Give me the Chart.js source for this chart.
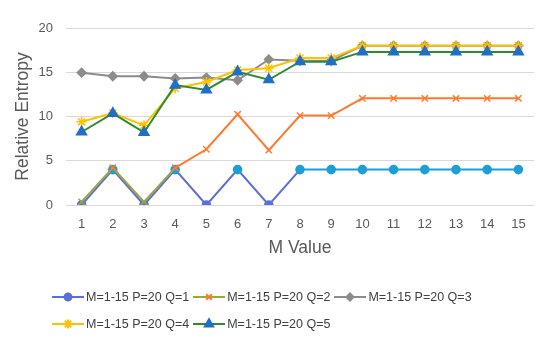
<!DOCTYPE html>
<html>
<head>
<meta charset="utf-8">
<script src="https://cdn.jsdelivr.net/npm/chart.js@4.4.0/dist/chart.umd.min.js"></script>
<style>
  html, body { margin: 0; padding: 0; background: #fff; }
  #wrap { position: relative; width: 550px; height: 351px; }
  #legend { position: absolute; left: 52px; top: 287px; font-family: "Liberation Sans", Arial, sans-serif; font-size: 12.5px; color: #404040; }
  .row { display: flex; align-items: center; height: 20px; margin-bottom: 7px; white-space: nowrap; }
  .item { display: flex; align-items: center; margin-right: 4px; }
  .item canvas { margin-right: 2px; }
</style>
</head>
<body>
<div id="wrap">
  <canvas id="c" width="550" height="351"></canvas>
  <div id="legend"></div>
</div>
<script>
const categories = ['1','2','3','4','5','6','7','8','9','10','11','12','13','14','15'];
const seriesNames = ['M=1-15 P=20 Q=1','M=1-15 P=20 Q=2','M=1-15 P=20 Q=3','M=1-15 P=20 Q=4','M=1-15 P=20 Q=5'];
const q1 = [0, 4, 0, 4, 0, 4, 0, 4, 4, 4, 4, 4, 4, 4, 4];
const q2 = [0.35, 4.2, 0.35, 4.2, 6.3, 10.25, 6.2, 10.1, 10.1, 12.05, 12.05, 12.05, 12.05, 12.05, 12.05];
const q3 = [14.95, 14.55, 14.55, 14.3, 14.4, 14.1, 16.45, 16.3, 16.3, 18.0, 18.0, 18.0, 18.0, 18.0, 18.0];
const q4 = [9.4, 10.4, 9.0, 13.2, 13.9, 15.25, 15.45, 16.6, 16.6, 18.0, 18.0, 18.0, 18.0, 18.0, 18.0];
const q5 = [8.25, 10.35, 8.2, 13.55, 13.0, 15.05, 14.15, 16.2, 16.2, 17.3, 17.3, 17.3, 17.3, 17.3, 17.3];
const yTicks = [0, 5, 10, 15, 20];

const PURPLE = '#5b6fd8', CYAN = '#1e9ed6';
const OLIVE = '#9aa83e', ORANGE = '#ff7a2e';
const GRAY = '#8c8c8c', YELLOW = '#ffc000';
const GREEN = '#2e8b2e', BLUE = '#1f6fc8';

const datasets = [
  {
    label: seriesNames[0], data: q1, order: 5,
    borderColor: CYAN, borderWidth: 2,
    segment: { borderColor: ctx => ctx.p0DataIndex < 7 ? PURPLE : CYAN },
    pointStyle: 'circle', pointRadius: 3.8,
    pointBackgroundColor: ctx => (ctx.raw === 0 ? PURPLE : CYAN),
    pointBorderColor: ctx => (ctx.raw === 0 ? PURPLE : CYAN),
  },
  {
    label: seriesNames[1], data: q2, order: 4,
    borderColor: ORANGE, borderWidth: 2,
    segment: { borderColor: ctx => ctx.p0DataIndex < 3 ? OLIVE : ORANGE },
    pointStyle: 'crossRot', pointRadius: 4.5, pointBorderWidth: 1.5,
    pointBorderColor: ctx => (ctx.dataIndex === 0 || ctx.dataIndex === 2 ? OLIVE : ORANGE),
    pointBackgroundColor: ORANGE,
  },
  {
    label: seriesNames[2], data: q3, order: 3,
    borderColor: GRAY, borderWidth: 2,
    pointStyle: 'rectRot', pointRadius: 4,
    pointBackgroundColor: GRAY, pointBorderColor: GRAY,
  },
  {
    label: seriesNames[3], data: q4, order: 2,
    borderColor: YELLOW, borderWidth: 2,
    pointStyle: 'star', pointRadius: 5, pointBorderWidth: 1.5,
    pointBackgroundColor: YELLOW, pointBorderColor: YELLOW,
  },
  {
    label: seriesNames[4], data: q5, order: 1,
    borderColor: GREEN, borderWidth: 2,
    pointStyle: 'triangle', pointRadius: 5.2,
    pointBackgroundColor: BLUE, pointBorderColor: BLUE,
  },
];

const tickColor = '#595959';
const fontFam = '"Liberation Sans", Arial, sans-serif';

new Chart(document.getElementById('c'), {
  type: 'line',
  data: { labels: categories, datasets },
  options: {
    responsive: false,
    animation: false,
    devicePixelRatio: 1,
    layout: { padding: { left: 0, right: 16, top: 28, bottom: 76 } },
    elements: { line: { tension: 0 } },
    plugins: { legend: { display: false }, tooltip: { enabled: false } },
    scales: {
      x: {
        offset: true,
        grid: { display: false, drawTicks: false },
        border: { display: false },
        ticks: { color: tickColor, font: { family: fontFam, size: 13 }, padding: 12, maxRotation: 0 },
        title: { display: true, text: 'M Value', color: tickColor, font: { family: fontFam, size: 17.5 }, padding: { top: 0, bottom: 16.5 } },
        afterFit: s => { s.height = 70; },
      },
      y: {
        min: 0, max: 20,
        afterBuildTicks: s => { s.ticks = yTicks.map(v => ({ value: v })); },
        grid: { color: '#d9d9d9', lineWidth: 1, drawTicks: false },
        border: { display: false },
        ticks: { color: tickColor, font: { family: fontFam, size: 13 }, padding: 13 },
        title: { display: true, text: 'Relative Entropy', color: tickColor, font: { family: fontFam, size: 17.5 }, padding: { top: 12.5, bottom: 0 } },
        afterFit: s => { s.width = 66; },
      },
    },
  },
});

// HTML legend (Excel-like line + marker samples)
const legendRows = [[0, 1, 2], [3, 4]];
const legendLine = [PURPLE, OLIVE, GRAY, YELLOW, GREEN];
const legendMarker = [PURPLE, ORANGE, GRAY, YELLOW, BLUE];
const legendStyle = ['circle', 'crossRot', 'rectRot', 'star', 'triangle'];
const legendRadius = [3.5, 4, 3.5, 4.5, 4.8];
const legendEl = document.getElementById('legend');
legendRows.forEach(row => {
  const r = document.createElement('div');
  r.className = 'row';
  row.forEach(i => {
    const it = document.createElement('div');
    it.className = 'item';
    const cv = document.createElement('canvas');
    cv.width = 32; cv.height = 14;
    const g = cv.getContext('2d');
    g.strokeStyle = legendLine[i]; g.lineWidth = 2;
    g.beginPath(); g.moveTo(0, 7); g.lineTo(32, 7); g.stroke();
    g.fillStyle = legendMarker[i]; g.strokeStyle = legendMarker[i];
    Chart.helpers.drawPoint(g, { pointStyle: legendStyle[i], radius: legendRadius[i], rotation: 0, borderWidth: 1.5 }, 16, 7);
    it.appendChild(cv);
    const t = document.createElement('span');
    t.textContent = seriesNames[i];
    it.appendChild(t);
    r.appendChild(it);
  });
  legendEl.appendChild(r);
});
</script>
</body>
</html>
